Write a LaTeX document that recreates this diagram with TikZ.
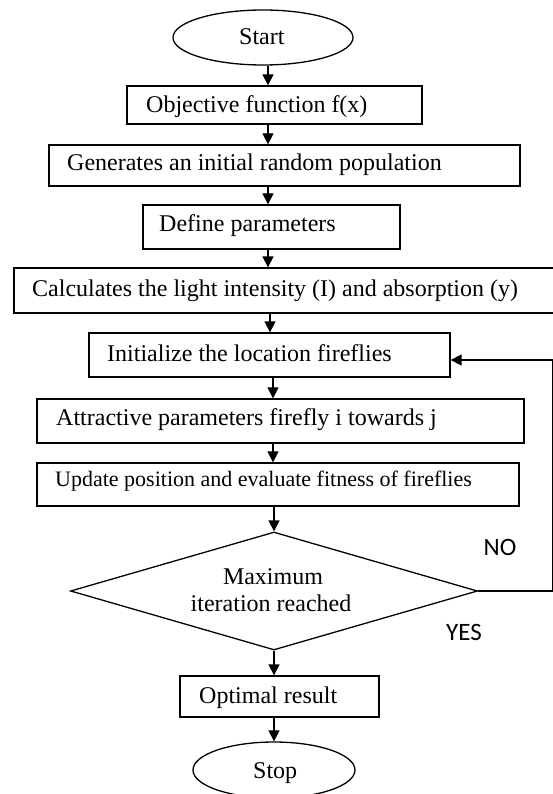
\documentclass[tikz,border=0pt]{standalone}
\usepackage{fontspec}
\setmainfont{Liberation Serif}
\newfontfamily\yesnofont{Carlito}
\usetikzlibrary{shapes.geometric,arrows.meta}
\begin{document}
\begin{tikzpicture}[x=1pt,y=-1pt,
  box/.style={draw, line width=1.3pt, inner sep=0pt, rectangle},
  term/.style={draw, line width=1.3pt, ellipse, inner sep=0pt},
  dec/.style={draw, line width=1.3pt, diamond, inner sep=0pt, aspect=3.45},
  txt/.style={inner sep=0pt, anchor=base west, font=\fontsize{24}{28}\selectfont},
  ctxt/.style={inner sep=0pt, anchor=base, font=\fontsize{24}{28}\selectfont},
  lbl/.style={inner sep=0pt, anchor=base, font=\yesnofont\fontsize{25}{29}\selectfont},
  arr/.style={line width=1.3pt, -{Triangle[length=11pt,width=11pt]}}]
\fill[white] (0,0) rectangle (552,794);
\useasboundingbox (0,0) rectangle (552,794);

% shapes
\node[term, minimum width=180pt, minimum height=55pt] (start) at (263,37.5) {};
\node[box, minimum width=295pt, minimum height=38pt] (b1) at (274.5,105) {};
\node[box, minimum width=471pt, minimum height=41pt] (b2) at (284.5,165.5) {};
\node[box, minimum width=257pt, minimum height=44pt] (b3) at (271.5,227) {};
\node[box, minimum width=540pt, minimum height=45pt] (b4) at (284,290.5) {};
\node[box, minimum width=361pt, minimum height=44pt] (b5) at (269.5,355) {};
\node[box, minimum width=487pt, minimum height=44pt] (b6) at (280.5,421) {};
\node[box, minimum width=482pt, minimum height=43pt] (b7) at (278,484.5) {};
\node[dec, minimum width=407pt, minimum height=118pt] (dia) at (274,591) {};
\node[box, minimum width=199pt, minimum height=41pt] (opt) at (279.5,696.5) {};
\node[term, minimum width=162pt, minimum height=56pt] (stop) at (274,770) {};

% texts
\node[txt] (tstart) at (239,45) {Start};
\node[txt] (t1) at (146,113) {Objective function f(x)};
\node[txt] (t2) at (67,171) {Generates an initial random population};
\node[txt] (t3) at (159,232) {Define parameters};
\node[txt] (t4) at (32,296) {Calculates the light intensity (I) and absorption (y)};
\node[txt] (t5) at (107,361) {Initialize the location fireflies};
\node[txt] (t6) at (56,425) {Attractive parameters firefly i towards j};
\node[txt, font=\fontsize{22}{26}\selectfont] (t7) at (55,486) {Update position and evaluate fitness of fireflies};
\node[ctxt] (td1) at (273,584) {Maximum};
\node[ctxt] (td2) at (271,611) {iteration reached};
\node[txt] (topt) at (199,703) {Optimal result};
\node[txt] (tstop) at (253,778) {Stop};
\node[lbl] (no) at (500,555) {NO};
\node[lbl] (yes) at (464,640) {YES};

% connector x positions
\coordinate (xa) at (268,0);
\coordinate (xb) at (270,0);
\coordinate (xc) at (273,0);
\coordinate (xe) at (274,0);
\coordinate (fb) at (552.5,360);

\draw[arr] (start.south -| xa) -- (b1.north -| xa);
\draw[arr] (b1.south -| xa) -- (b2.north -| xa);
\draw[arr] (b2.south -| xa) -- (b3.north -| xa);
\draw[arr] (b3.south -| xa) -- (b4.north -| xa);
\draw[arr] (b4.south -| xb) -- (b5.north -| xb);
\draw[arr] (b5.south -| xc) -- (b6.north -| xc);
\draw[arr] (b6.south -| xc) -- (b7.north -| xc);
\draw[arr] (b7.south -| dia.north) -- (dia.north);
\draw[arr] (dia.south) -- (opt.north -| xe);
\draw[arr] (opt.south -| xe) -- (stop.north);
\draw[arr] (dia.east) -- (dia.east -| fb) -- (fb) -- (b5.east |- fb);
\end{tikzpicture}
\end{document}
